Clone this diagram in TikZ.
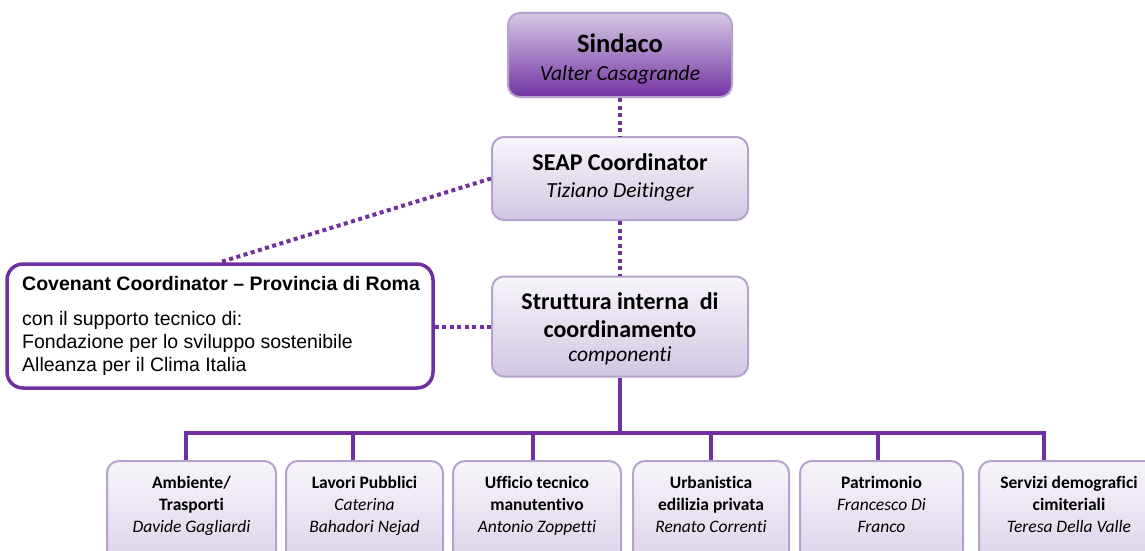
\documentclass[tikz,border=0pt]{standalone}
\usepackage{fontspec}
\setmainfont{Carlito}[Ligatures={NoCommon}]
\newfontfamily\arialf{Liberation Sans}
\definecolor{pur}{HTML}{7030A0}
\definecolor{bord}{HTML}{B5A2CE}
\definecolor{ltop}{HTML}{F8F5FB}
\definecolor{lbot}{HTML}{D2C6E2}
\definecolor{stop}{HTML}{D6C9E5}
\definecolor{smid}{HTML}{C7B4DB}
\definecolor{sbot}{HTML}{7233A2}
\newcommand\mytop[1]{\rule{0pt}{#1}}
\newcommand\mybot[1]{\rule[-#1]{0pt}{#1}}
\begin{document}
\begin{tikzpicture}[x=1pt,y=-1pt,
  dotc/.style={pur, line width=4pt, dash pattern=on 4pt off 3.5pt},
  treel/.style={pur, line width=3.5pt},
  lbox/.style={draw=bord, line width=2pt, rounded corners=12pt, top color=ltop, bottom color=lbot, inner sep=0pt},
  sbox/.style={lbox, top color=stop, middle color=smid, bottom color=sbot},
  cbox/.style={draw=pur, line width=3.5pt, rounded corners=16pt, fill=white, inner sep=0pt},
  txt/.style={align=center, inner sep=0pt},
  botbox/.style={lbox, minimum height=140pt},
  bottxt/.style={txt, font=\fontsize{17.5}{22}\selectfont}
]
\useasboundingbox (0,0) rectangle (1145,551);
\clip (0,0) rectangle (1145,551);

% boxes
\node[sbox, minimum width=224pt, minimum height=84pt] (sind) at (620,55) {};
\node[lbox, minimum width=256pt, minimum height=83pt] (seap) at (620,178.5) {};
\node[lbox, minimum width=256pt, minimum height=100pt] (str) at (620,326.5) {};
\node[cbox, minimum width=426pt, minimum height=124pt] (cov) at (220,326) {};
\node[botbox, minimum width=169pt] (b1) at (191.5,531) {};
\node[botbox, minimum width=157pt] (b2) at (364.5,531) {};
\node[botbox, minimum width=168pt] (b3) at (537,531) {};
\node[botbox, minimum width=156pt] (b4) at (711,531) {};
\node[botbox, minimum width=163pt] (b5) at (881.5,531) {};
\node[botbox, minimum width=180pt] (b6) at (1069,531) {};

% texts
\node[txt, font=\fontsize{21.5}{28}\selectfont] (sindt) at (620,58.5)
  {\mytop{20pt}{\bfseries\fontsize{26.5}{28}\selectfont Sindaco}\\{\itshape Valter Casagrande}\mybot{5pt}};
\node[txt, font=\fontsize{21.5}{27}\selectfont] (seapt) at (620,177)
  {\mytop{18pt}{\bfseries\fontsize{24}{27}\selectfont SEAP Coordinator}\\{\itshape Tiziano Deitinger}\mybot{5pt}};
\node[txt, font=\fontsize{24}{28}\selectfont] (strt) at (620,328.5)
  {\mytop{18pt}\textbf{Struttura interna\ \ di}\\\textbf{coordinamento}\\[-4pt]{\itshape\fontsize{21.5}{28}\selectfont componenti}\mybot{5pt}};
\node[inner sep=0pt, align=left, anchor=west, font=\arialf\fontsize{19.5}{23}\selectfont] (covt) at (22,325.5)
  {\mytop{15pt}\textbf{Covenant Coordinator – Provincia di Roma}\\[12pt]
   con il supporto tecnico di:\\Fondazione per lo sviluppo sostenibile\\Alleanza per il Clima Italia\mybot{5pt}};

\node[bottxt] (b1t) at (b1 |- 0,505) {\mytop{14pt}\textbf{Ambiente/}\\\textbf{Trasporti}\\\textit{Davide Gagliardi}\mybot{4pt}};
\node[bottxt] (b2t) at (b2 |- 0,505) {\mytop{14pt}\textbf{Lavori Pubblici}\\\textit{Caterina}\\\textit{Bahadori Nejad}\mybot{4pt}};
\node[bottxt] (b3t) at (b3 |- 0,505) {\mytop{14pt}\textbf{Ufficio tecnico}\\\textbf{manutentivo}\\\textit{Antonio Zoppetti}\mybot{4pt}};
\node[bottxt] (b4t) at (b4 |- 0,505) {\mytop{14pt}\textbf{Urbanistica}\\\textbf{edilizia privata}\\\textit{Renato Correnti}\mybot{4pt}};
\node[bottxt] (b5t) at (b5 |- 0,505) {\mytop{14pt}\textbf{Patrimonio}\\\textit{Francesco Di}\\\textit{Franco}\mybot{4pt}};
\node[bottxt] (b6t) at (b6 |- 0,505) {\mytop{14pt}\textbf{Servizi demografici}\\\textbf{cimiteriali}\\\textit{Teresa Della Valle}\mybot{4pt}};

% dotted links
\draw[dotc] (sind.south) -- (seap.north);
\draw[dotc] (seap.south) -- (str.north);
\draw[dotc] (seap.west) -- (cov.north);
\draw[dotc] (str.west) -- (str.west -| cov.east);

% tree
\coordinate (bus) at (621,433);
\coordinate (d1) at (186,433);
\coordinate (d2) at (353,433);
\coordinate (d3) at (533,433);
\coordinate (d4) at (711,433);
\coordinate (d5) at (878,433);
\coordinate (d6) at (1044,433);
\draw[treel] (str.south) -- (str.south |- bus);
\draw[treel, line cap=rect] (d1) -- (d6);
\draw[treel] (d1) -- (d1 |- b1.north);
\draw[treel] (d2) -- (d2 |- b2.north);
\draw[treel] (d3) -- (d3 |- b3.north);
\draw[treel] (d4) -- (d4 |- b4.north);
\draw[treel] (d5) -- (d5 |- b5.north);
\draw[treel] (d6) -- (d6 |- b6.north);
\end{tikzpicture}
\end{document}
